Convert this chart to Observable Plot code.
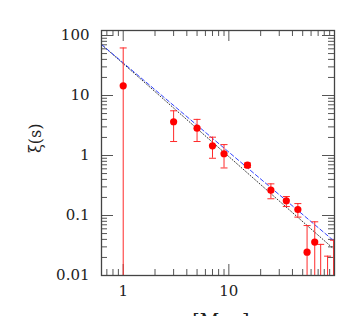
<!DOCTYPE html>
<html><head><meta charset="utf-8">
<script src="https://cdn.jsdelivr.net/npm/d3@7"></script>
<script src="https://cdn.jsdelivr.net/npm/@observablehq/plot@0.6"></script>
<style>body{margin:0;background:#fff}</style>
</head><body><div id="chart"></div>
<script>
// Data
const sep   = [1, 3, 5, 7, 9, 15, 25, 35, 45, 55, 65, 74, 86, 98];
const xi    = [14.5, 3.65, 2.85, 1.45, 1.07, 0.69, 0.264, 0.176, 0.126, 0.0245, 0.036, 0.005, 0.005, 0.005];
const xiHi  = [62, 5.56, 4.0, 2.02, 1.52, 0.75, 0.337, 0.207, 0.158, 0.068, 0.0785, 0.033, 0.021, 0.0387];
const xiLo  = [0.001, 1.71, 1.71, 0.90, 0.62, 0.63, 0.19, 0.141, 0.094, 0.001, 0.001, 0.001, 0.001, 0.001];

const fitS      = [0.623, 100];
const fitBlue   = [70.8, 0.037];
const fitDotted = [70.8, 0.027];

const xTicks = [1, 10];
const xTickLabels = ["1", "10"];
const xMajor = [1, 10, 100];
const xMinor = [0.7, 0.8, 0.9, 2, 3, 4, 5, 6, 7, 8, 9, 20, 30, 40, 50, 60, 70, 80, 90];
const yTicks = [0.01, 0.1, 1, 10, 100];
const yTickLabels = ["0.01", "0.1", "1", "10", "100"];
const yMinor = [0.02,0.03,0.04,0.05,0.06,0.07,0.08,0.09,0.2,0.3,0.4,0.5,0.6,0.7,0.8,0.9,2,3,4,5,6,7,8,9,20,30,40,50,60,70,80,90];

const points = sep.map((s, i) => ({s, xi: xi[i], hi: xiHi[i], lo: xiLo[i]}));
const fits = fitS.map((s, i) => ({s, blue: fitBlue[i], dotted: fitDotted[i]}));

const W = 364, H = 316;
const mL = 101, mR = 30, mT = 30, mB = 41;
const fw = W - mL - mR, fh = H - mT - mB;

const capSymbol = {draw(ctx) { ctx.moveTo(-3.5, 0); ctx.lineTo(3.5, 0); }};
const tickCol = "#555";

const chart = Plot.plot({
  width: W, height: H,
  marginLeft: mL, marginRight: mR, marginTop: mT, marginBottom: mB,
  style: {fontFamily: "DejaVu Serif", background: "#fff", color: "#222"},
  x: {type: "log", domain: [0.623, 100], axis: null},
  y: {type: "log", domain: [0.01, 121.2], axis: null},
  marks: [
    // ticks (inward, mirrored)
    Plot.tickX(xMajor, {x: d => d, insetTop: fh - 11, stroke: tickCol}),
    Plot.tickX(xMinor, {x: d => d, insetTop: fh - 6, stroke: tickCol}),
    Plot.tickX(xMajor, {x: d => d, insetBottom: fh - 11, stroke: tickCol}),
    Plot.tickX(xMinor, {x: d => d, insetBottom: fh - 6, stroke: tickCol}),
    Plot.tickY(yTicks, {y: d => d, insetRight: fw - 12, stroke: tickCol}),
    Plot.tickY(yMinor, {y: d => d, insetRight: fw - 6, stroke: tickCol}),
    Plot.tickY(yTicks, {y: d => d, insetLeft: fw - 12, stroke: tickCol}),
    Plot.tickY(yMinor, {y: d => d, insetLeft: fw - 6, stroke: tickCol}),
    // model lines
    Plot.line(fits, {x: "s", y: "dotted", stroke: "#333", strokeWidth: 1, strokeDasharray: "1,2", clip: true}),
    Plot.line(fits, {x: "s", y: "blue", stroke: "#3344ff", strokeWidth: 1, strokeDasharray: "4,2.5", clip: true}),
    // error bars
    Plot.ruleX(points, {x: "s", y1: "lo", y2: "hi", stroke: "#ff2a2a", strokeWidth: 1, clip: true}),
    Plot.dot(points, {x: "s", y: "hi", symbol: capSymbol, stroke: "#ff2a2a", fill: "none", strokeWidth: 1, clip: true}),
    Plot.dot(points, {x: "s", y: "lo", symbol: capSymbol, stroke: "#ff2a2a", fill: "none", strokeWidth: 1, clip: true}),
    Plot.dot(points, {x: "s", y: "xi", r: 3.6, fill: "#ff0000", stroke: "none", clip: true}),
    // frame
    Plot.frame({stroke: "#444", strokeWidth: 1.3}),
    // axes labels
    Plot.axisX(xTicks, {tickSize: 0, tickPadding: 10, fontSize: 15, tickFormat: d => xTickLabels[xTicks.indexOf(d)], label: null}),
    Plot.axisY(yTicks, {tickSize: 0, tickPadding: 12, fontSize: 15, tickFormat: d => yTickLabels[yTicks.indexOf(d)], label: null}),
    Plot.text(["s[Mpc]"], {frameAnchor: "bottom", dy: 38, lineAnchor: "top", fontSize: 19, dx: -2}),
    Plot.text(["ξ(s)"], {frameAnchor: "left", dx: -66, rotate: -90, fontSize: 16})
  ]
});
document.getElementById("chart").appendChild(chart);
</script>
</body></html>
